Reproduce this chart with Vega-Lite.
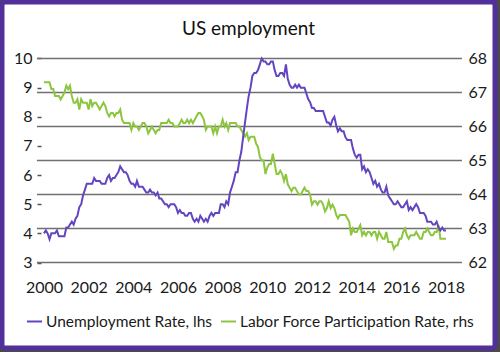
{
  "$schema": "https://vega.github.io/schema/vega-lite/v6.json",
  "autosize": "none",
  "width": 493,
  "height": 346,
  "padding": {"left": 2, "top": 2, "right": 5, "bottom": 4},
  "background": "#4a4a4a",
  "view": {"fill": "white", "stroke": "#51309b", "strokeWidth": 5, "cornerRadius": 3},
  "title": {"text": "US employment", "font": "Lato", "fontSize": 19, "fontWeight": "normal", "color": "#111111", "anchor": "middle", "baseline": "alphabetic", "offset": -52, "frame": "bounds"},
  "config": {"font": "Lato"},
  "datasets": {
    "grid": [{"g": 62}, {"g": 63}, {"g": 64}, {"g": 65}, {"g": 66}, {"g": 67}, {"g": 68}],
    "emp": [
      {"d": "2000-01-01", "u": 4.0, "l": 67.3}, {"d": "2000-02-01", "u": 4.1, "l": 67.3}, {"d": "2000-03-01", "u": 4.0, "l": 67.3}, {"d": "2000-04-01", "u": 3.8, "l": 67.3}, {"d": "2000-05-01", "u": 4.0, "l": 67.1}, {"d": "2000-06-01", "u": 4.0, "l": 67.1}, {"d": "2000-07-01", "u": 4.0, "l": 66.9}, {"d": "2000-08-01", "u": 4.1, "l": 66.9}, {"d": "2000-09-01", "u": 3.9, "l": 66.9}, {"d": "2000-10-01", "u": 3.9, "l": 66.8}, {"d": "2000-11-01", "u": 3.9, "l": 66.9}, {"d": "2000-12-01", "u": 3.9, "l": 67.0},
      {"d": "2001-01-01", "u": 4.2, "l": 67.2}, {"d": "2001-02-01", "u": 4.2, "l": 67.1}, {"d": "2001-03-01", "u": 4.3, "l": 67.2}, {"d": "2001-04-01", "u": 4.4, "l": 66.9}, {"d": "2001-05-01", "u": 4.3, "l": 66.7}, {"d": "2001-06-01", "u": 4.5, "l": 66.7}, {"d": "2001-07-01", "u": 4.6, "l": 66.8}, {"d": "2001-08-01", "u": 4.9, "l": 66.5}, {"d": "2001-09-01", "u": 5.0, "l": 66.8}, {"d": "2001-10-01", "u": 5.3, "l": 66.7}, {"d": "2001-11-01", "u": 5.5, "l": 66.7}, {"d": "2001-12-01", "u": 5.7, "l": 66.7},
      {"d": "2002-01-01", "u": 5.7, "l": 66.5}, {"d": "2002-02-01", "u": 5.7, "l": 66.8}, {"d": "2002-03-01", "u": 5.7, "l": 66.6}, {"d": "2002-04-01", "u": 5.9, "l": 66.7}, {"d": "2002-05-01", "u": 5.8, "l": 66.7}, {"d": "2002-06-01", "u": 5.8, "l": 66.6}, {"d": "2002-07-01", "u": 5.8, "l": 66.5}, {"d": "2002-08-01", "u": 5.7, "l": 66.6}, {"d": "2002-09-01", "u": 5.7, "l": 66.7}, {"d": "2002-10-01", "u": 5.7, "l": 66.6}, {"d": "2002-11-01", "u": 5.9, "l": 66.4}, {"d": "2002-12-01", "u": 6.0, "l": 66.3},
      {"d": "2003-01-01", "u": 5.8, "l": 66.4}, {"d": "2003-02-01", "u": 5.9, "l": 66.4}, {"d": "2003-03-01", "u": 5.9, "l": 66.3}, {"d": "2003-04-01", "u": 6.0, "l": 66.4}, {"d": "2003-05-01", "u": 6.1, "l": 66.4}, {"d": "2003-06-01", "u": 6.3, "l": 66.5}, {"d": "2003-07-01", "u": 6.2, "l": 66.2}, {"d": "2003-08-01", "u": 6.1, "l": 66.1}, {"d": "2003-09-01", "u": 6.1, "l": 66.1}, {"d": "2003-10-01", "u": 6.0, "l": 66.1}, {"d": "2003-11-01", "u": 5.8, "l": 66.1}, {"d": "2003-12-01", "u": 5.7, "l": 65.9},
      {"d": "2004-01-01", "u": 5.7, "l": 66.1}, {"d": "2004-02-01", "u": 5.6, "l": 66.0}, {"d": "2004-03-01", "u": 5.8, "l": 66.0}, {"d": "2004-04-01", "u": 5.6, "l": 65.9}, {"d": "2004-05-01", "u": 5.6, "l": 66.0}, {"d": "2004-06-01", "u": 5.6, "l": 66.1}, {"d": "2004-07-01", "u": 5.5, "l": 66.1}, {"d": "2004-08-01", "u": 5.4, "l": 66.0}, {"d": "2004-09-01", "u": 5.4, "l": 65.8}, {"d": "2004-10-01", "u": 5.5, "l": 65.9}, {"d": "2004-11-01", "u": 5.4, "l": 66.0}, {"d": "2004-12-01", "u": 5.4, "l": 65.9},
      {"d": "2005-01-01", "u": 5.3, "l": 65.8}, {"d": "2005-02-01", "u": 5.4, "l": 65.9}, {"d": "2005-03-01", "u": 5.2, "l": 65.9}, {"d": "2005-04-01", "u": 5.2, "l": 66.1}, {"d": "2005-05-01", "u": 5.1, "l": 66.1}, {"d": "2005-06-01", "u": 5.0, "l": 66.1}, {"d": "2005-07-01", "u": 5.0, "l": 66.1}, {"d": "2005-08-01", "u": 4.9, "l": 66.2}, {"d": "2005-09-01", "u": 5.0, "l": 66.1}, {"d": "2005-10-01", "u": 5.0, "l": 66.1}, {"d": "2005-11-01", "u": 5.0, "l": 66.0}, {"d": "2005-12-01", "u": 4.9, "l": 66.0},
      {"d": "2006-01-01", "u": 4.7, "l": 66.0}, {"d": "2006-02-01", "u": 4.8, "l": 66.1}, {"d": "2006-03-01", "u": 4.7, "l": 66.2}, {"d": "2006-04-01", "u": 4.7, "l": 66.1}, {"d": "2006-05-01", "u": 4.6, "l": 66.1}, {"d": "2006-06-01", "u": 4.6, "l": 66.2}, {"d": "2006-07-01", "u": 4.7, "l": 66.1}, {"d": "2006-08-01", "u": 4.7, "l": 66.2}, {"d": "2006-09-01", "u": 4.5, "l": 66.1}, {"d": "2006-10-01", "u": 4.4, "l": 66.2}, {"d": "2006-11-01", "u": 4.5, "l": 66.3}, {"d": "2006-12-01", "u": 4.4, "l": 66.4},
      {"d": "2007-01-01", "u": 4.6, "l": 66.4}, {"d": "2007-02-01", "u": 4.5, "l": 66.3}, {"d": "2007-03-01", "u": 4.4, "l": 66.2}, {"d": "2007-04-01", "u": 4.5, "l": 65.9}, {"d": "2007-05-01", "u": 4.4, "l": 66.0}, {"d": "2007-06-01", "u": 4.6, "l": 66.0}, {"d": "2007-07-01", "u": 4.7, "l": 66.0}, {"d": "2007-08-01", "u": 4.6, "l": 65.8}, {"d": "2007-09-01", "u": 4.7, "l": 66.0}, {"d": "2007-10-01", "u": 4.7, "l": 65.8}, {"d": "2007-11-01", "u": 4.7, "l": 66.0}, {"d": "2007-12-01", "u": 5.0, "l": 66.0},
      {"d": "2008-01-01", "u": 5.0, "l": 66.2}, {"d": "2008-02-01", "u": 4.9, "l": 66.0}, {"d": "2008-03-01", "u": 5.1, "l": 66.1}, {"d": "2008-04-01", "u": 5.0, "l": 65.9}, {"d": "2008-05-01", "u": 5.4, "l": 66.1}, {"d": "2008-06-01", "u": 5.6, "l": 66.1}, {"d": "2008-07-01", "u": 5.8, "l": 66.1}, {"d": "2008-08-01", "u": 6.1, "l": 66.1}, {"d": "2008-09-01", "u": 6.1, "l": 66.0}, {"d": "2008-10-01", "u": 6.5, "l": 66.0}, {"d": "2008-11-01", "u": 6.8, "l": 65.9}, {"d": "2008-12-01", "u": 7.3, "l": 65.8},
      {"d": "2009-01-01", "u": 7.8, "l": 65.7}, {"d": "2009-02-01", "u": 8.3, "l": 65.8}, {"d": "2009-03-01", "u": 8.7, "l": 65.6}, {"d": "2009-04-01", "u": 9.0, "l": 65.7}, {"d": "2009-05-01", "u": 9.4, "l": 65.7}, {"d": "2009-06-01", "u": 9.5, "l": 65.7}, {"d": "2009-07-01", "u": 9.5, "l": 65.5}, {"d": "2009-08-01", "u": 9.6, "l": 65.4}, {"d": "2009-09-01", "u": 9.8, "l": 65.1}, {"d": "2009-10-01", "u": 10.0, "l": 65.0}, {"d": "2009-11-01", "u": 9.9, "l": 65.0}, {"d": "2009-12-01", "u": 9.9, "l": 64.6},
      {"d": "2010-01-01", "u": 9.8, "l": 64.8}, {"d": "2010-02-01", "u": 9.8, "l": 64.9}, {"d": "2010-03-01", "u": 9.9, "l": 64.9}, {"d": "2010-04-01", "u": 9.9, "l": 65.2}, {"d": "2010-05-01", "u": 9.6, "l": 64.9}, {"d": "2010-06-01", "u": 9.4, "l": 64.6}, {"d": "2010-07-01", "u": 9.4, "l": 64.6}, {"d": "2010-08-01", "u": 9.5, "l": 64.7}, {"d": "2010-09-01", "u": 9.5, "l": 64.6}, {"d": "2010-10-01", "u": 9.4, "l": 64.4}, {"d": "2010-11-01", "u": 9.8, "l": 64.6}, {"d": "2010-12-01", "u": 9.3, "l": 64.3},
      {"d": "2011-01-01", "u": 9.1, "l": 64.2}, {"d": "2011-02-01", "u": 9.0, "l": 64.1}, {"d": "2011-03-01", "u": 9.0, "l": 64.2}, {"d": "2011-04-01", "u": 9.1, "l": 64.2}, {"d": "2011-05-01", "u": 9.0, "l": 64.1}, {"d": "2011-06-01", "u": 9.1, "l": 64.0}, {"d": "2011-07-01", "u": 9.0, "l": 64.0}, {"d": "2011-08-01", "u": 9.0, "l": 64.1}, {"d": "2011-09-01", "u": 9.0, "l": 64.2}, {"d": "2011-10-01", "u": 8.8, "l": 64.1}, {"d": "2011-11-01", "u": 8.6, "l": 64.1}, {"d": "2011-12-01", "u": 8.5, "l": 64.0},
      {"d": "2012-01-01", "u": 8.3, "l": 63.7}, {"d": "2012-02-01", "u": 8.3, "l": 63.8}, {"d": "2012-03-01", "u": 8.2, "l": 63.8}, {"d": "2012-04-01", "u": 8.2, "l": 63.7}, {"d": "2012-05-01", "u": 8.2, "l": 63.8}, {"d": "2012-06-01", "u": 8.2, "l": 63.8}, {"d": "2012-07-01", "u": 8.2, "l": 63.7}, {"d": "2012-08-01", "u": 8.0, "l": 63.5}, {"d": "2012-09-01", "u": 7.8, "l": 63.6}, {"d": "2012-10-01", "u": 7.8, "l": 63.8}, {"d": "2012-11-01", "u": 7.7, "l": 63.6}, {"d": "2012-12-01", "u": 7.9, "l": 63.7},
      {"d": "2013-01-01", "u": 8.0, "l": 63.6}, {"d": "2013-02-01", "u": 7.7, "l": 63.4}, {"d": "2013-03-01", "u": 7.5, "l": 63.3}, {"d": "2013-04-01", "u": 7.6, "l": 63.4}, {"d": "2013-05-01", "u": 7.5, "l": 63.4}, {"d": "2013-06-01", "u": 7.5, "l": 63.4}, {"d": "2013-07-01", "u": 7.3, "l": 63.4}, {"d": "2013-08-01", "u": 7.2, "l": 63.3}, {"d": "2013-09-01", "u": 7.2, "l": 63.2}, {"d": "2013-10-01", "u": 7.2, "l": 62.8}, {"d": "2013-11-01", "u": 6.9, "l": 63.0}, {"d": "2013-12-01", "u": 6.7, "l": 62.9},
      {"d": "2014-01-01", "u": 6.6, "l": 62.9}, {"d": "2014-02-01", "u": 6.7, "l": 63.0}, {"d": "2014-03-01", "u": 6.7, "l": 63.1}, {"d": "2014-04-01", "u": 6.2, "l": 62.8}, {"d": "2014-05-01", "u": 6.3, "l": 62.9}, {"d": "2014-06-01", "u": 6.1, "l": 62.8}, {"d": "2014-07-01", "u": 6.2, "l": 62.9}, {"d": "2014-08-01", "u": 6.1, "l": 62.9}, {"d": "2014-09-01", "u": 5.9, "l": 62.8}, {"d": "2014-10-01", "u": 5.7, "l": 62.9}, {"d": "2014-11-01", "u": 5.8, "l": 62.9}, {"d": "2014-12-01", "u": 5.6, "l": 62.7},
      {"d": "2015-01-01", "u": 5.7, "l": 62.9}, {"d": "2015-02-01", "u": 5.5, "l": 62.8}, {"d": "2015-03-01", "u": 5.4, "l": 62.7}, {"d": "2015-04-01", "u": 5.4, "l": 62.7}, {"d": "2015-05-01", "u": 5.6, "l": 62.9}, {"d": "2015-06-01", "u": 5.3, "l": 62.6}, {"d": "2015-07-01", "u": 5.2, "l": 62.6}, {"d": "2015-08-01", "u": 5.1, "l": 62.6}, {"d": "2015-09-01", "u": 5.0, "l": 62.4}, {"d": "2015-10-01", "u": 5.0, "l": 62.5}, {"d": "2015-11-01", "u": 5.1, "l": 62.5}, {"d": "2015-12-01", "u": 5.0, "l": 62.7},
      {"d": "2016-01-01", "u": 4.9, "l": 62.7}, {"d": "2016-02-01", "u": 4.9, "l": 62.9}, {"d": "2016-03-01", "u": 5.0, "l": 63.0}, {"d": "2016-04-01", "u": 5.1, "l": 62.8}, {"d": "2016-05-01", "u": 4.8, "l": 62.7}, {"d": "2016-06-01", "u": 4.9, "l": 62.8}, {"d": "2016-07-01", "u": 4.8, "l": 62.8}, {"d": "2016-08-01", "u": 4.9, "l": 62.8}, {"d": "2016-09-01", "u": 5.0, "l": 62.9}, {"d": "2016-10-01", "u": 4.9, "l": 62.8}, {"d": "2016-11-01", "u": 4.7, "l": 62.7}, {"d": "2016-12-01", "u": 4.7, "l": 62.7},
      {"d": "2017-01-01", "u": 4.7, "l": 62.9}, {"d": "2017-02-01", "u": 4.6, "l": 62.9}, {"d": "2017-03-01", "u": 4.4, "l": 63.0}, {"d": "2017-04-01", "u": 4.4, "l": 62.9}, {"d": "2017-05-01", "u": 4.4, "l": 62.8}, {"d": "2017-06-01", "u": 4.3, "l": 62.8}, {"d": "2017-07-01", "u": 4.3, "l": 62.9}, {"d": "2017-08-01", "u": 4.4, "l": 62.9}, {"d": "2017-09-01", "u": 4.2, "l": 63.1}, {"d": "2017-10-01", "u": 4.1, "l": 62.7}, {"d": "2017-11-01", "u": 4.2, "l": 62.7}, {"d": "2017-12-01", "u": 4.1, "l": 62.7},
      {"d": "2018-01-01", "u": 4.1, "l": 62.7}
    ]
  },
  "data": {"name": "emp"},
  "layer": [
    {
      "layer": [
        {
          "data": {"name": "grid"},
          "mark": {"type": "rule", "color": "#707070", "strokeWidth": 1.5},
          "encoding": {
            "x": {"datum": {"year": 1999, "month": 9, "date": 8}, "type": "temporal",
                  "scale": {"domain": [{"year": 1998, "month": 2, "date": 14}, {"year": 2020, "month": 3, "date": 12}], "nice": false}},
            "x2": {"datum": {"year": 2018, "month": 9, "date": 18}},
            "y": {"field": "g", "type": "quantitative",
                  "scale": {"domain": [59.4853, 69.6618], "nice": false, "zero": false},
                  "axis": {"orient": "right", "values": [62, 63, 64, 65, 66, 67, 68], "offset": -33, "domain": false, "grid": false, "ticks": false, "labelPadding": 6, "labelFont": "Lato", "labelFontSize": 16, "labelColor": "#1a1a1a", "title": null}}
          }
        },
        {
          "mark": {"type": "line", "strokeWidth": 2},
          "encoding": {
            "x": {"field": "d", "type": "temporal",
                  "scale": {"domain": [{"year": 1998, "month": 2, "date": 14}, {"year": 2020, "month": 3, "date": 12}], "nice": false}},
            "y": {"field": "l", "type": "quantitative",
                  "scale": {"domain": [59.4853, 69.6618], "nice": false, "zero": false}},
            "color": {"datum": "Labor Force Participation Rate, rhs"}
          }
        }
      ]
    },
    {
      "mark": {"type": "line", "strokeWidth": 2},
      "encoding": {
        "x": {"field": "d", "type": "temporal",
              "scale": {"domain": [{"year": 1998, "month": 2, "date": 14}, {"year": 2020, "month": 3, "date": 12}], "nice": false},
              "axis": {"orient": "bottom", "tickCount": {"interval": "year", "step": 2}, "labelExpr": "year(datum.value) < 2000 || year(datum.value) > 2018 ? '' : timeFormat(datum.value, '%Y')", "offset": -85, "domain": false, "ticks": false, "grid": false, "labelPadding": 16, "labelFont": "Lato", "labelFontSize": 16, "labelColor": "#1a1a1a", "labelFlush": false, "labelOverlap": false, "title": null}},
        "y": {"field": "u", "type": "quantitative",
              "scale": {"domain": [0.0662, 11.9387], "nice": false, "zero": false},
              "axis": {"orient": "left", "values": [3, 4, 5, 6, 7, 8, 9, 10], "offset": -39, "domain": false, "grid": false, "ticks": true, "tickSize": 4, "tickColor": "#555555", "tickWidth": 1.5, "labelPadding": 5, "labelFont": "Lato", "labelFontSize": 16, "labelColor": "#1a1a1a", "title": null}},
        "color": {"datum": "Unemployment Rate, lhs",
                  "scale": {"domain": ["Unemployment Rate, lhs", "Labor Force Participation Rate, rhs"], "range": ["#6445c0", "#8cc63f"]},
                  "legend": {"orient": "none", "legendX": 24, "legendY": 311, "direction": "horizontal", "title": null, "symbolType": "stroke", "symbolSize": 225, "symbolStrokeWidth": 2, "labelFont": "Lato", "labelFontSize": 15.5, "labelColor": "#1a1a1a", "labelOffset": 3, "columnPadding": 4, "padding": 0, "labelLimit": 400}}
      }
    }
  ],
  "resolve": {"scale": {"y": "independent"}}
}
